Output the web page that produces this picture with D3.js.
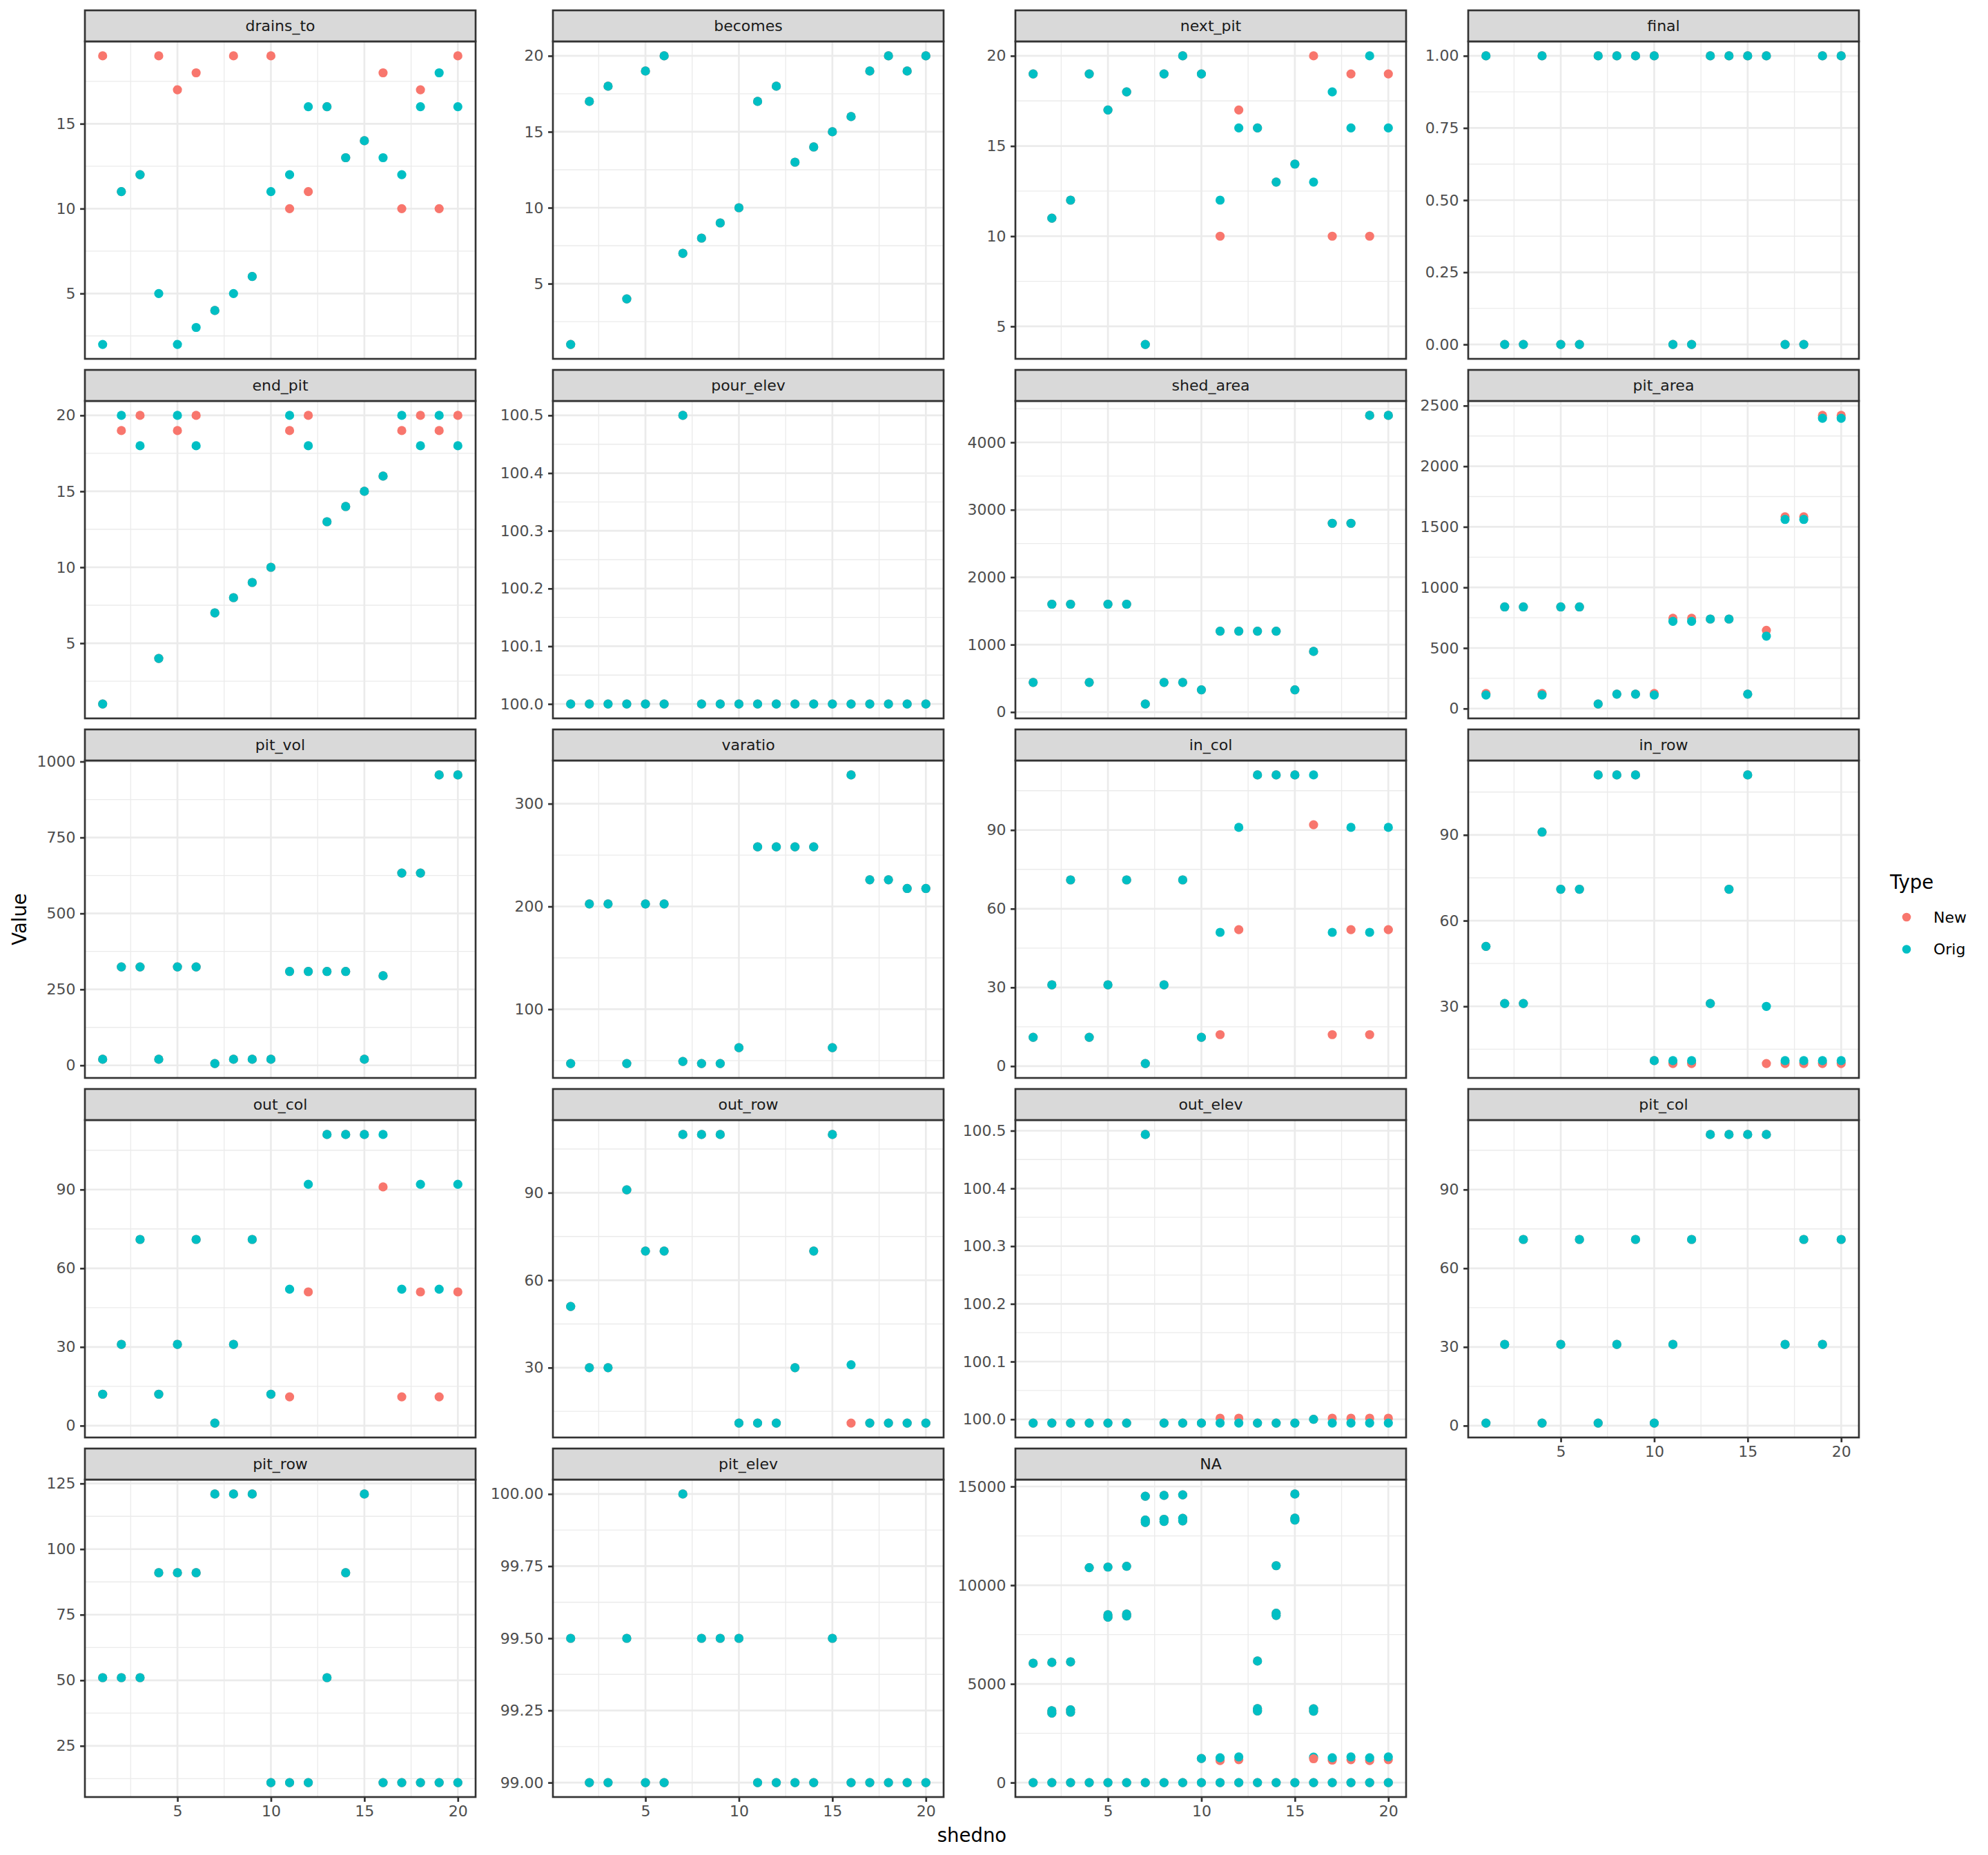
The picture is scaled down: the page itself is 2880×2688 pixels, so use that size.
<!DOCTYPE html>
<html><head><meta charset="utf-8">
<script src="https://cdn.jsdelivr.net/npm/d3@7"></script>
<style>body{margin:0;background:#fff} svg{display:block}</style>
</head><body>
<script>
// ---------------- DATA ----------------
const shedno = [1,2,3,4,5,6,7,8,9,10,11,12,13,14,15,16,17,18,19,20];
const facetNames = ["drains_to","becomes","next_pit","final","end_pit","pour_elev","shed_area","pit_area",
  "pit_vol","varatio","in_col","in_row","out_col","out_row","out_elev","pit_col","pit_row","pit_elev","NA"];

const drains_to_orig = [2,11,12,5,2,3,4,5,6,11,12,16,16,13,14,13,12,16,18,16];
const drains_to_new  = [19,11,12,19,17,18,4,19,6,19,10,11,16,13,14,18,10,17,10,19];
const becomes_orig = [1,17,18,4,19,20,7,8,9,10,17,18,13,14,15,16,19,20,19,20];
const becomes_new  = [1,17,18,4,19,20,7,8,9,10,17,18,13,14,15,16,19,20,19,20];
const next_pit_orig = [19,11,12,19,17,18,4,19,20,19,12,16,16,13,14,13,18,16,20,16];
const next_pit_new  = [19,11,12,19,17,18,4,19,20,19,10,17,16,13,14,20,10,19,10,19];
const final_orig = [1,0,0,1,0,0,1,1,1,1,0,0,1,1,1,1,0,0,1,1];
const final_new  = [1,0,0,1,0,0,1,1,1,1,0,0,1,1,1,1,0,0,1,1];
const end_pit_orig = [1,20,18,4,20,18,7,8,9,10,20,18,13,14,15,16,20,18,20,18];
const end_pit_new  = [1,19,20,4,19,20,7,8,9,10,19,20,13,14,15,16,19,20,19,20];
const pour_elev_orig = [100,100,100,100,100,100,100.5,100,100,100,100,100,100,100,100,100,100,100,100,100];
const pour_elev_new  = [100,100,100,100,100,100,100.5,100,100,100,100,100,100,100,100,100,100,100,100,100];
const shed_area_orig = [440,1600,1600,440,1600,1600,120,440,440,330,1200,1200,1200,1200,330,900,2800,2800,4400,4400];
const shed_area_new  = [440,1600,1600,440,1600,1600,120,440,440,330,1200,1200,1200,1200,330,900,2800,2800,4400,4400];
const pit_area_orig = [112,839,839,112,839,839,38,119,119,112,720,720,739,739,119,598,1561,1561,2396,2396];
const pit_area_new  = [125,839,839,125,839,839,38,119,119,125,746,746,739,739,119,646,1583,1583,2420,2420];
const pit_vol_orig = [20,324,324,20,324,324,6,20,20,20,309,309,309,309,20,295,633,633,956,956];
const pit_vol_new  = [20,324,324,20,324,324,6,20,20,20,309,309,309,309,20,295,633,633,956,956];
const varatio_orig = [47.2,202.5,202.5,47.2,202.5,202.5,49.2,47.2,47.2,62.6,258,258,258,258,62.6,328,226,226,217.5,217.5];
const varatio_new  = [47.2,202.5,202.5,47.2,202.5,202.5,49.2,47.2,47.2,62.6,258,258,258,258,62.6,328,226,226,217.5,217.5];
const in_col_orig = [11,31,71,11,31,71,1,31,71,11,51,91,111,111,111,111,51,91,51,91];
const in_col_new  = [11,31,71,11,31,71,1,31,71,11,12,52,111,111,111,92,12,52,12,52];
const in_row_orig = [51,31,31,91,71,71,111,111,111,11,11,11,31,71,111,30,11,11,11,11];
const in_row_new  = [51,31,31,91,71,71,111,111,111,11,10,10,31,71,111,10,10,10,10,10];
const out_col_orig = [12,31,71,12,31,71,1,31,71,12,52,92,111,111,111,111,52,92,52,92];
const out_col_new  = [12,31,71,12,31,71,1,31,71,12,11,51,111,111,111,91,11,51,11,51];
const out_row_orig = [51,30,30,91,70,70,110,110,110,11,11,11,30,70,110,31,11,11,11,11];
const out_row_new  = [51,30,30,91,70,70,110,110,110,11,11,11,30,70,110,11,11,11,11,11];
const out_elev_orig = [99.9935,99.9935,99.9935,99.9935,99.9935,99.9935,100.4935,99.9935,99.9935,99.9935,99.9935,99.9935,99.9935,99.9935,99.9935,100.0,99.9935,99.9935,99.9935,99.9935];
const out_elev_new  = [99.9935,99.9935,99.9935,99.9935,99.9935,99.9935,100.4935,99.9935,99.9935,99.9935,100.002,100.002,99.9935,99.9935,99.9935,100.0,100.002,100.002,100.002,100.002];
const pit_col_orig = [1,31,71,1,31,71,1,31,71,1,31,71,111,111,111,111,31,71,31,71];
const pit_col_new  = [1,31,71,1,31,71,1,31,71,1,31,71,111,111,111,111,31,71,31,71];
const pit_row_orig = [51,51,51,91,91,91,121,121,121,11,11,11,51,91,121,11,11,11,11,11];
const pit_row_new  = [51,51,51,91,91,91,121,121,121,11,11,11,51,91,121,11,11,11,11,11];
const pit_elev_orig = [99.5,99,99,99.5,99,99,100,99.5,99.5,99.5,99,99,99,99,99.5,99,99,99,99,99];
const pit_elev_new  = [99.5,99,99,99.5,99,99,100,99.5,99.5,99.5,99,99,99,99,99.5,99,99,99,99,99];
// NA facet: several values per shed
const na_orig = [[0,6050],[0,3520,3640,6090],[0,3570,3690,6120],[0,10890],[0,8380,8500,10920],[0,8440,8540,10960],
  [0,13180,13300,14510],[0,13230,13340,14550],[0,13260,13390,14580],[0,1220],[0,1255],[0,1302],[0,3630,3750,6160],
  [0,8470,8580,10990],[0,13300,13400,14620],[0,1290,3620,3740],[0,1255],[0,1302],[0,1255],[0,1302]];
const na_new = [[0,6050],[0,3520,3640,6090],[0,3570,3690,6120],[0,10890],[0,8380,8500,10920],[0,8440,8540,10960],
  [0,13180,13300,14510],[0,13230,13340,14550],[0,13260,13390,14580],[0,1220],[0,1116],[0,1163],[0,3630,3750,6160],
  [0,8470,8580,10990],[0,13300,13400,14620],[0,1210,3620,3740],[0,1140],[0,1163],[0,1116],[0,1163]];
const na_new_on_top_sheds = [16];

// tick values
const xTicks = [5,10,15,20];
const ticks_drains_to = [5,10,15];
const ticks_becomes = [5,10,15,20];
const ticks_next_pit = [5,10,15,20];
const ticks_final = [0,0.25,0.5,0.75,1];
const ticks_end_pit = [5,10,15,20];
const ticks_pour_elev = [100,100.1,100.2,100.3,100.4,100.5];
const ticks_shed_area = [0,1000,2000,3000,4000];
const ticks_pit_area = [0,500,1000,1500,2000,2500];
const ticks_pit_vol = [0,250,500,750,1000];
const ticks_varatio = [100,200,300];
const ticks_in_col = [0,30,60,90];
const ticks_in_row = [30,60,90];
const ticks_out_col = [0,30,60,90];
const ticks_out_row = [30,60,90];
const ticks_out_elev = [100,100.1,100.2,100.3,100.4,100.5];
const ticks_pit_col = [0,30,60,90];
const ticks_pit_row = [25,50,75,100,125];
const ticks_pit_elev = [99,99.25,99.5,99.75,100];
const ticks_NA = [0,5000,10000,15000];
const tickFormats = {final:".2f", pour_elev:".1f", out_elev:".1f", pit_elev:".2f"};

const legendTypes = ["New","Orig"];
const typeColors = ["#F8766D","#00BFC4"];

// ---------------- BUILD TABLE ----------------
const series = {
  drains_to:[drains_to_orig,drains_to_new,ticks_drains_to], becomes:[becomes_orig,becomes_new,ticks_becomes],
  next_pit:[next_pit_orig,next_pit_new,ticks_next_pit], final:[final_orig,final_new,ticks_final],
  end_pit:[end_pit_orig,end_pit_new,ticks_end_pit], pour_elev:[pour_elev_orig,pour_elev_new,ticks_pour_elev],
  shed_area:[shed_area_orig,shed_area_new,ticks_shed_area], pit_area:[pit_area_orig,pit_area_new,ticks_pit_area],
  pit_vol:[pit_vol_orig,pit_vol_new,ticks_pit_vol], varatio:[varatio_orig,varatio_new,ticks_varatio],
  in_col:[in_col_orig,in_col_new,ticks_in_col], in_row:[in_row_orig,in_row_new,ticks_in_row],
  out_col:[out_col_orig,out_col_new,ticks_out_col], out_row:[out_row_orig,out_row_new,ticks_out_row],
  out_elev:[out_elev_orig,out_elev_new,ticks_out_elev], pit_col:[pit_col_orig,pit_col_new,ticks_pit_col],
  pit_row:[pit_row_orig,pit_row_new,ticks_pit_row], pit_elev:[pit_elev_orig,pit_elev_new,ticks_pit_elev],
  NA:[na_orig,na_new,ticks_NA]
};

// ---------------- LAYOUT ----------------
const W = 2880, H = 2688;
const colLeft = [123, 801, 1471, 2127], panelW = 566;
const rowTop = [60, 581, 1102, 1623, 2144], panelH = 460, stripH = 45;
const FONT = "DejaVu Sans, Liberation Sans, sans-serif";
const lw = 2.67;

const svg = d3.select("body").append("svg").attr("width", W).attr("height", H)
  .style("font-family", FONT);
svg.append("rect").attr("width", W).attr("height", H).attr("fill", "#fff");

const xDomain = [1 - 0.05*19, 20 + 0.05*19];

facetNames.forEach((name, i) => {
  const col = i % 4, row = Math.floor(i / 4);
  const left = colLeft[col], top = rowTop[row];
  const [origV, newV, ticks] = series[name];
  const pts = [];
  const isNA = name === "NA";
  shedno.forEach((s, j) => {
    const nv = isNA ? newV[j] : [newV[j]];
    const ov = isNA ? origV[j] : [origV[j]];
    nv.forEach(v => pts.push({x:s, v, t:0,
      top: isNA && na_new_on_top_sheds.includes(s) && !ov.includes(v)}));
    ov.forEach(v => pts.push({x:s, v, t:1, top:false}));
  });
  const ext = d3.extent(pts, d => d.v);
  const r = ext[1] - ext[0];
  const x = d3.scaleLinear().domain(xDomain).range([left, left + panelW]);
  const y = d3.scaleLinear().domain([ext[0] - 0.05*r, ext[1] + 0.05*r]).range([top + panelH, top]);

  const g = svg.append("g");
  g.append("rect").attr("x", left).attr("y", top).attr("width", panelW).attr("height", panelH).attr("fill", "#fff");

  // minor breaks
  const mids = arr => {
    const m = [];
    for (let k = 0; k < arr.length - 1; k++) m.push((arr[k] + arr[k+1]) / 2);
    const st = arr[1] - arr[0];
    m.unshift(arr[0] - st/2); m.push(arr[arr.length-1] + st/2);
    return m;
  };
  const yd = y.domain(), xd = x.domain();
  const yMinor = mids(ticks).filter(v => v >= yd[0] && v <= yd[1]);
  const xMinor = mids(xTicks).filter(v => v >= xd[0] && v <= xd[1]);
  const grid = g.append("g").attr("stroke", "#EBEBEB");
  grid.selectAll(".ymin").data(yMinor).join("line")
    .attr("x1", left).attr("x2", left + panelW).attr("y1", d => y(d)).attr("y2", d => y(d)).attr("stroke-width", lw/2);
  grid.selectAll(".xmin").data(xMinor).join("line")
    .attr("y1", top).attr("y2", top + panelH).attr("x1", d => x(d)).attr("x2", d => x(d)).attr("stroke-width", lw/2);
  grid.selectAll(".ymaj").data(ticks.filter(v => v >= yd[0] && v <= yd[1])).join("line")
    .attr("x1", left).attr("x2", left + panelW).attr("y1", d => y(d)).attr("y2", d => y(d)).attr("stroke-width", lw);
  grid.selectAll(".xmaj").data(xTicks).join("line")
    .attr("y1", top).attr("y2", top + panelH).attr("x1", d => x(d)).attr("x2", d => x(d)).attr("stroke-width", lw);

  // points: New, then Orig, then any New drawn on top
  const ordered = pts.filter(p => p.t === 0 && !p.top).concat(pts.filter(p => p.t === 1), pts.filter(p => p.top));
  g.append("g").selectAll("circle").data(ordered).join("circle")
    .attr("cx", d => x(d.x)).attr("cy", d => y(d.v)).attr("r", 6.6)
    .attr("fill", d => typeColors[d.t]);

  // border
  g.append("rect").attr("x", left).attr("y", top).attr("width", panelW).attr("height", panelH)
    .attr("fill", "none").attr("stroke", "#333333").attr("stroke-width", lw);

  // strip
  g.append("rect").attr("x", left).attr("y", top - stripH).attr("width", panelW).attr("height", stripH)
    .attr("fill", "#D9D9D9").attr("stroke", "#333333").attr("stroke-width", lw);
  g.append("text").attr("x", left + panelW/2).attr("y", top - stripH/2).attr("dy", "0.35em")
    .attr("text-anchor", "middle").attr("font-size", 22).attr("fill", "#1A1A1A").text(name);

  // y axis
  const fmt = d3.format(tickFormats[name] || "d");
  const ya = g.append("g").attr("transform", `translate(${left},0)`)
    .call(d3.axisLeft(y).tickValues(ticks).tickFormat(fmt).tickSize(6.9).tickPadding(6.5));
  ya.select(".domain").remove();
  ya.selectAll(".tick line").attr("stroke", "#333333").attr("stroke-width", lw);
  ya.selectAll(".tick text").attr("fill", "#4D4D4D").attr("font-size", 22).attr("font-family", FONT);

  // x axis on bottom panel of each column
  const isBottom = row === 4 || (col === 3 && row === 3);
  if (isBottom) {
    const xa = g.append("g").attr("transform", `translate(0,${top + panelH})`)
      .call(d3.axisBottom(x).tickValues(xTicks).tickFormat(d3.format("d")).tickSize(6.9).tickPadding(5.5));
    xa.select(".domain").remove();
    xa.selectAll(".tick line").attr("stroke", "#333333").attr("stroke-width", lw);
    xa.selectAll(".tick text").attr("fill", "#4D4D4D").attr("font-size", 22).attr("font-family", FONT);
  }
});

// axis titles
svg.append("text").attr("x", (colLeft[0] + colLeft[3] + panelW) / 2).attr("y", 2669)
  .attr("text-anchor", "middle").attr("font-size", 27.5).attr("fill", "#000").text("shedno");
svg.append("text").attr("transform", `translate(38,${(rowTop[0] + rowTop[4] + panelH) / 2}) rotate(-90)`)
  .attr("text-anchor", "middle").attr("font-size", 27.5).attr("fill", "#000").text("Value");

// legend
const lg = svg.append("g");
lg.append("text").attr("x", 2738).attr("y", 1288).attr("font-size", 27.5).attr("fill", "#000").text("Type");
legendTypes.forEach((t, k) => {
  const cy = 1329 + k * 46.5;
  lg.append("circle").attr("cx", 2762).attr("cy", cy).attr("r", 6.3).attr("fill", typeColors[k]);
  lg.append("text").attr("x", 2801).attr("y", cy).attr("dy", "0.36em").attr("font-size", 22).attr("fill", "#000").text(t);
});
</script>
</body></html>
